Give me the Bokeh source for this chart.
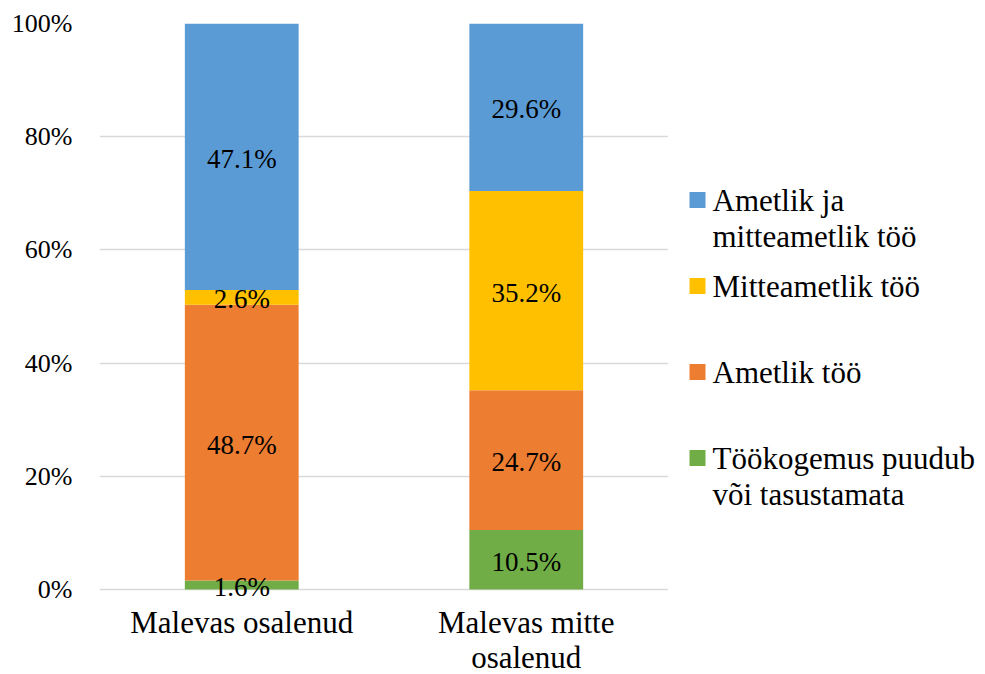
from bokeh.plotting import figure
from bokeh.layouts import row
from bokeh.models import ColumnDataSource, FactorRange, Range1d, FixedTicker, PrintfTickFormatter
from bokeh.core.properties import value
from bokeh.embed import file_html
from bokeh.resources import INLINE

# ---- data ----
categories = ["Malevas osalenud", "Malevas mitte osalenud"]
category_labels = ["Malevas osalenud", "Malevas mitte\nosalenud"]

# series, bottom to top of the stack
series_keys = ["puudub", "ametlik", "mitteametlik", "molemad"]
series_names = ["Töökogemus puudub\nvõi tasustamata", "Ametlik töö", "Mitteametlik töö", "Ametlik ja\nmitteametlik töö"]
series_colors = ["#70AD47", "#ED7D31", "#FFC000", "#5B9BD5"]

tookogemus_puudub = [1.6, 10.5]
ametlik_too = [48.7, 24.7]
mitteametlik_too = [2.6, 35.2]
ametlik_ja_mitteametlik = [47.1, 29.6]

y_ticks = [0, 20, 40, 60, 80, 100]

FONT = "'Liberation Serif', 'Times New Roman', Tinos, 'DejaVu Serif', serif"

# ---- layout constants (pixels) ----
H = 674            # figure height
TOP = 23           # top border
PLOT_PX = 566      # pixels for 0..100 %
BELOW = H - TOP - PLOT_PX   # frame room below 0 %
PX = 100.0 / PLOT_PX        # data units per pixel

series_values = [tookogemus_puudub, ametlik_too, mitteametlik_too, ametlik_ja_mitteametlik]
src = ColumnDataSource(dict(cat=categories, **{k: v for k, v in zip(series_keys, series_values)}))

p = figure(x_range=FactorRange(factors=categories, range_padding=0),
           y_range=Range1d(-BELOW * PX, 100),
           width=668, height=H, min_border_left=99, min_border_right=0,
           min_border_top=TOP, min_border_bottom=0,
           x_axis_location=None, output_backend="svg", toolbar_location=None)

p.vbar_stack(series_keys, x="cat", width=0.4, color=series_colors, line_color=None, source=src)

# data labels
lx, ly, lt = [], [], []
for ci, c in enumerate(categories):
    cum = 0.0
    for vals in series_values:
        v = vals[ci]
        lx.append(c)
        ly.append(cum + v / 2)
        lt.append(f"{v:.1f}%")
        cum += v
p.text(x="x", y="y", text="t", source=ColumnDataSource(dict(x=lx, y=ly, t=lt)),
       text_align="center", text_baseline="middle", text_font=value(FONT),
       text_font_size="27px", text_color="#000000", y_offset=2)

# category labels below the 0 % line
p.text(x=categories, y=[-15 * PX] * len(categories), text=category_labels,
       text_align="center", text_baseline="top", text_font=value(FONT),
       text_font_size="31px", text_line_height=1.0, text_color="#000000")

p.yaxis.ticker = FixedTicker(ticks=y_ticks)
p.yaxis.formatter = PrintfTickFormatter(format="%d%%")
p.yaxis.major_label_text_font = FONT
p.yaxis.major_label_text_font_size = "26px"
p.yaxis.major_label_text_color = "#000000"
p.yaxis.major_label_standoff = 21
p.yaxis.axis_line_color = None
p.yaxis.major_tick_line_color = None
p.yaxis.minor_tick_line_color = None
p.xgrid.grid_line_color = None
p.ygrid.ticker = FixedTicker(ticks=y_ticks)
p.ygrid.grid_line_color = "#D9D9D9"
p.ygrid.grid_line_width = 1.5
p.outline_line_color = None

# ---- legend panel (y in page pixels; frame aligned with main frame) ----
LW = 312
leg = figure(width=LW, height=H, x_range=Range1d(668, 668 + LW), y_range=Range1d(H, TOP),
             min_border_left=0, min_border_right=0, min_border_top=TOP, min_border_bottom=0,
             x_axis_location=None, y_axis_location=None,
             output_backend="svg", toolbar_location=None)
leg.grid.grid_line_color = None
leg.outline_line_color = None

order = list(reversed(range(len(series_keys))))  # top of stack first
sq_x, sq_y, sq_c, tx, ty, tt = [], [], [], [], [], []
for j, si in enumerate(order):
    cy = 199.5 + 86 * j
    sq_x.append(697)
    sq_y.append(cy)
    sq_c.append(series_colors[si])
    for k, line in enumerate(series_names[si].split("\n")):
        tx.append(712)
        ty.append(cy + 36 * k)
        tt.append(line)
leg.rect(x=sq_x, y=sq_y, width=16, height=16, color=sq_c, line_color=None)
leg.text(x=tx, y=ty, text=tt, text_align="left", text_baseline="middle",
         text_font=value(FONT), text_font_size="31px", text_color="#000000")

layout = row(p, leg)
open("out.html", "w").write(file_html(layout, INLINE))
